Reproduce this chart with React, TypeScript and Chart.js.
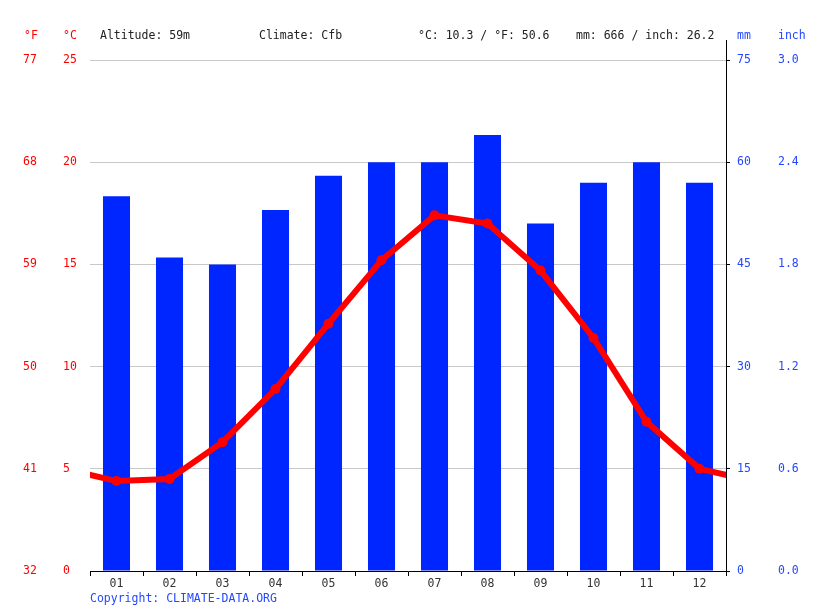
import React, { useEffect, useRef } from 'react';
import { Chart, registerables } from 'chart.js';

Chart.register(...registerables);

const months = ['01', '02', '03', '04', '05', '06', '07', '08', '09', '10', '11', '12'];
const precipitationMm = [55, 46, 45, 53, 58, 60, 60, 64, 51, 57, 60, 57];
const temperatureC = [4.4, 4.5, 6.3, 8.9, 12.1, 15.2, 17.4, 17.0, 14.7, 11.4, 7.3, 5.0];
const headerItems = ['Altitude: 59m', 'Climate: Cfb', '°C: 10.3 / °F: 50.6', 'mm: 666 / inch: 26.2'];
const copyright = 'Copyright: CLIMATE-DATA.ORG';

const FONT = '"DejaVu Sans Mono", monospace';
const RED = '#ff0000';
const BLUE = '#2448ff';
const BAR_BLUE = '#0026ff';

// line runs past both edges: December before January, January after December
const temperaturePoints = [
  { x: -0.5, y: temperatureC[11] },
  ...temperatureC.map((t, i) => ({ x: i + 0.5, y: t })),
  { x: 12.5, y: temperatureC[0] },
];

const headerPlugin = {
  id: 'header',
  afterDraw(chart: Chart) {
    const { ctx, chartArea } = chart;
    ctx.save();
    ctx.font = `11.5px ${FONT}`;
    ctx.textBaseline = 'middle';
    ctx.textAlign = 'left';
    const y = 36;
    ctx.fillStyle = RED;
    ctx.fillText('°F', 24, y);
    ctx.fillText('°C', 63, y);
    ctx.fillStyle = '#222';
    const xs = [100, 259, 418, 576];
    headerItems.forEach((t, i) => ctx.fillText(t, xs[i], y));
    ctx.fillStyle = BLUE;
    ctx.fillText('mm', 737, y);
    ctx.fillText('inch', 778, y);
    ctx.fillText(copyright, 90, 599);
    // right axis line reaches a bit above the plot
    ctx.strokeStyle = '#000';
    ctx.lineWidth = 1;
    ctx.beginPath();
    ctx.moveTo(chartArea.right + 0.5, 40);
    ctx.lineTo(chartArea.right + 0.5, chartArea.top);
    ctx.stroke();
    ctx.restore();
  },
};

const ClimateChart: React.FC = () => {
  const chartRef = useRef<HTMLCanvasElement>(null);
  const chartInstance = useRef<Chart | null>(null);

  useEffect(() => {
    if (!chartRef.current) return;
    if (chartInstance.current) chartInstance.current.destroy();

    const tickFont = { family: FONT, size: 11.5 };

    chartInstance.current = new Chart(chartRef.current, {
      type: 'bar',
      data: {
        labels: months,
        datasets: [
          {
            type: 'line',
            label: 'Temperature',
            data: temperaturePoints as any,
            xAxisID: 'xl',
            yAxisID: 'yC',
            borderColor: RED,
            backgroundColor: RED,
            borderWidth: 6,
            pointRadius: 5,
            pointBorderWidth: 0,
            tension: 0,
            clip: 0,
            order: 0,
          } as any,
          {
            type: 'bar',
            label: 'Precipitation',
            data: precipitationMm,
            xAxisID: 'x',
            yAxisID: 'yMm',
            backgroundColor: BAR_BLUE,
            barPercentage: 0.51,
            categoryPercentage: 1,
            grouped: false,
            order: 1,
          },
        ],
      },
      options: {
        responsive: false,
        animation: false,
        layout: { padding: { left: 23, top: 60, right: 0, bottom: 0 } },
        plugins: {
          legend: { display: false },
          tooltip: { enabled: false },
        },
        scales: {
          x: {
            type: 'category',
            position: 'bottom',
            offset: true,
            grid: {
              offset: true,
              drawOnChartArea: false,
              drawTicks: true,
              tickLength: 5,
              color: '#000',
            },
            border: { display: true, color: '#000', width: 1 },
            ticks: { color: '#333', font: tickFont, padding: 1, maxRotation: 0 },
            afterFit: (s: any) => {
              s.height = 40;
            },
          },
          xl: {
            type: 'linear',
            display: false,
            offset: false,
            min: 0,
            max: 12,
          },
          yC: {
            type: 'linear',
            position: 'left',
            min: 0,
            max: 25,
            ticks: { stepSize: 5, color: RED, font: tickFont, crossAlign: 'far' },
            grid: { color: '#c8c8c8', drawTicks: false },
            border: { display: false },
            afterFit: (s: any) => {
              s.width = 27;
            },
          },
          yF: {
            type: 'linear',
            position: 'left',
            min: 32,
            max: 77,
            ticks: { stepSize: 9, color: RED, font: tickFont, crossAlign: 'far' },
            grid: { display: false },
            border: { display: false },
            afterFit: (s: any) => {
              s.width = 40;
            },
          },
          yMm: {
            type: 'linear',
            position: 'right',
            min: 0,
            max: 75,
            ticks: { stepSize: 15, color: BLUE, font: tickFont, padding: 7, crossAlign: 'near' },
            grid: { drawOnChartArea: false, drawTicks: true, tickLength: 4, color: '#000' },
            border: { display: true, color: '#000', width: 1 },
            afterFit: (s: any) => {
              s.width = 52;
            },
          },
          yIn: {
            type: 'linear',
            position: 'right',
            min: 0,
            max: 3,
            ticks: {
              stepSize: 0.6,
              color: BLUE,
              font: tickFont,
              padding: 0,
              crossAlign: 'near',
              callback: (v: any) => Number(v).toFixed(1),
            },
            grid: { display: false, drawTicks: false },
            border: { display: false },
            afterFit: (s: any) => {
              s.width = 37;
            },
          },
        },
      },
      plugins: [headerPlugin],
    });

    return () => {
      if (chartInstance.current) {
        chartInstance.current.destroy();
        chartInstance.current = null;
      }
    };
  }, []);

  return (
    <div style={{ position: 'absolute', left: 0, top: 0, width: 815, height: 611, background: '#fff' }}>
      <canvas ref={chartRef} width={815} height={611} />
    </div>
  );
};

export default function App() {
  return <ClimateChart />;
}
